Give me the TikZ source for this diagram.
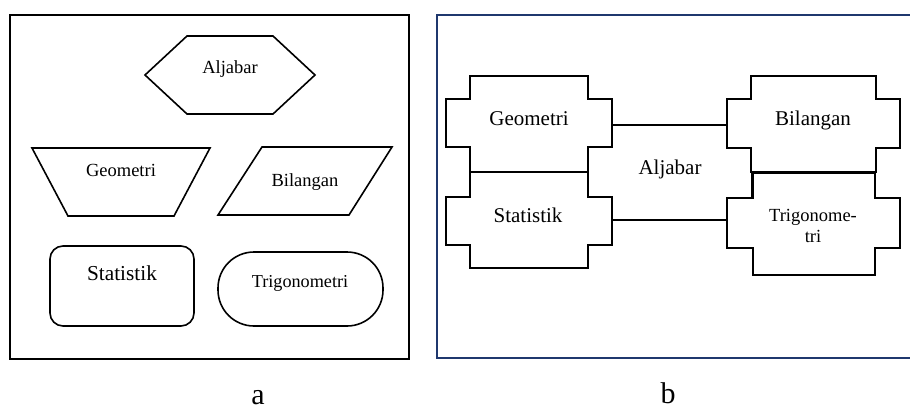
\documentclass[tikz,border=0pt]{standalone}
\usepackage{fontspec}
\setmainfont{Liberation Serif}
\definecolor{framenavy}{RGB}{31,56,110}
\begin{document}
\begin{tikzpicture}[x=1pt,y=-1pt,
  lineA/.style={draw=black,line width=1.6pt,line join=miter},
  lineB/.style={draw=black,fill=white,line width=2.7pt,line join=miter},
  txt/.style={anchor=base,inner sep=0pt,font=\fontsize{18.5}{20}\selectfont},
  txtbig/.style={anchor=base,inner sep=0pt,font=\fontsize{21.3}{23}\selectfont},
  txtb/.style={anchor=base,inner sep=0pt,font=\fontsize{21}{23}\selectfont},
  lab/.style={anchor=base,inner sep=0pt,font=\fontsize{30}{32}\selectfont}]
\useasboundingbox (0,0) rectangle (910,410);
% ---------- panel a ----------
\draw[line width=2pt] (10,15) rectangle (409,359);
\draw[lineA] (145,75) -- (187,36) -- (273,36) -- (315,75) -- (273,114) -- (187,114) -- cycle;
\node[txt] (aalj) at (230,73) {Aljabar};
\draw[lineA] (32,148) -- (210,148) -- (174,216) -- (68,216) -- cycle;
\node[txt] (ageo) at (121,176) {Geometri};
\draw[lineA] (262,147) -- (392,147) -- (349,215) -- (218,215) -- cycle;
\node[txt] (abil) at (305,186) {Bilangan};
\draw[lineA,rounded corners=13pt] (50,246) rectangle (194,326);
\node[txtbig] (asta) at (122,280) {Statistik};
\draw[lineA,rounded corners=36pt] (218,252) rectangle (383,326);
\node[txt,font=\fontsize{18.2}{20}\selectfont] (atri) at (300,287) {Trigonometri};
\node[lab] (la) at (258,404) {a};
% ---------- panel b ----------
\draw[framenavy,line width=2pt] (915,15) -- (437,15) -- (437,358) -- (915,358);
\draw[lineB] (588,125) rectangle (752,220);
\node[txtb] (balj) at (670,174) {Aljabar};
\draw[lineB] (470,76) -- (588,76) -- (588,99) -- (612,99) -- (612,147) -- (588,147) -- (588,172) -- (470,172) -- (470,147) -- (446,147) -- (446,99) -- (470,99) -- cycle;
\node[txtb] (bgeo) at (529,125) {Geometri};
\draw[lineB] (470,172) -- (588,172) -- (588,197) -- (612,197) -- (612,245) -- (588,245) -- (588,268) -- (470,268) -- (470,245) -- (446,245) -- (446,197) -- (470,197) -- cycle;
\node[txtb] (bsta) at (528,222) {Statistik};
\draw[lineB] (751,76) -- (876,76) -- (876,99) -- (900,99) -- (900,148) -- (876,148) -- (876,172) -- (751,172) -- (751,148) -- (727,148) -- (727,99) -- (751,99) -- cycle;
\node[txtb] (bbil) at (813,125) {Bilangan};
\draw[lineB] (753,173) -- (875,173) -- (875,198) -- (900,198) -- (900,248) -- (875,248) -- (875,275) -- (753,275) -- (753,248) -- (727,248) -- (727,198) -- (753,198) -- cycle;
\node[txt] (btri1) at (813,221) {Trigonome-};
\node[txt] (btri2) at (813,242) {tri};
\node[lab] (lb) at (668,403) {b};
\end{tikzpicture}
\end{document}
